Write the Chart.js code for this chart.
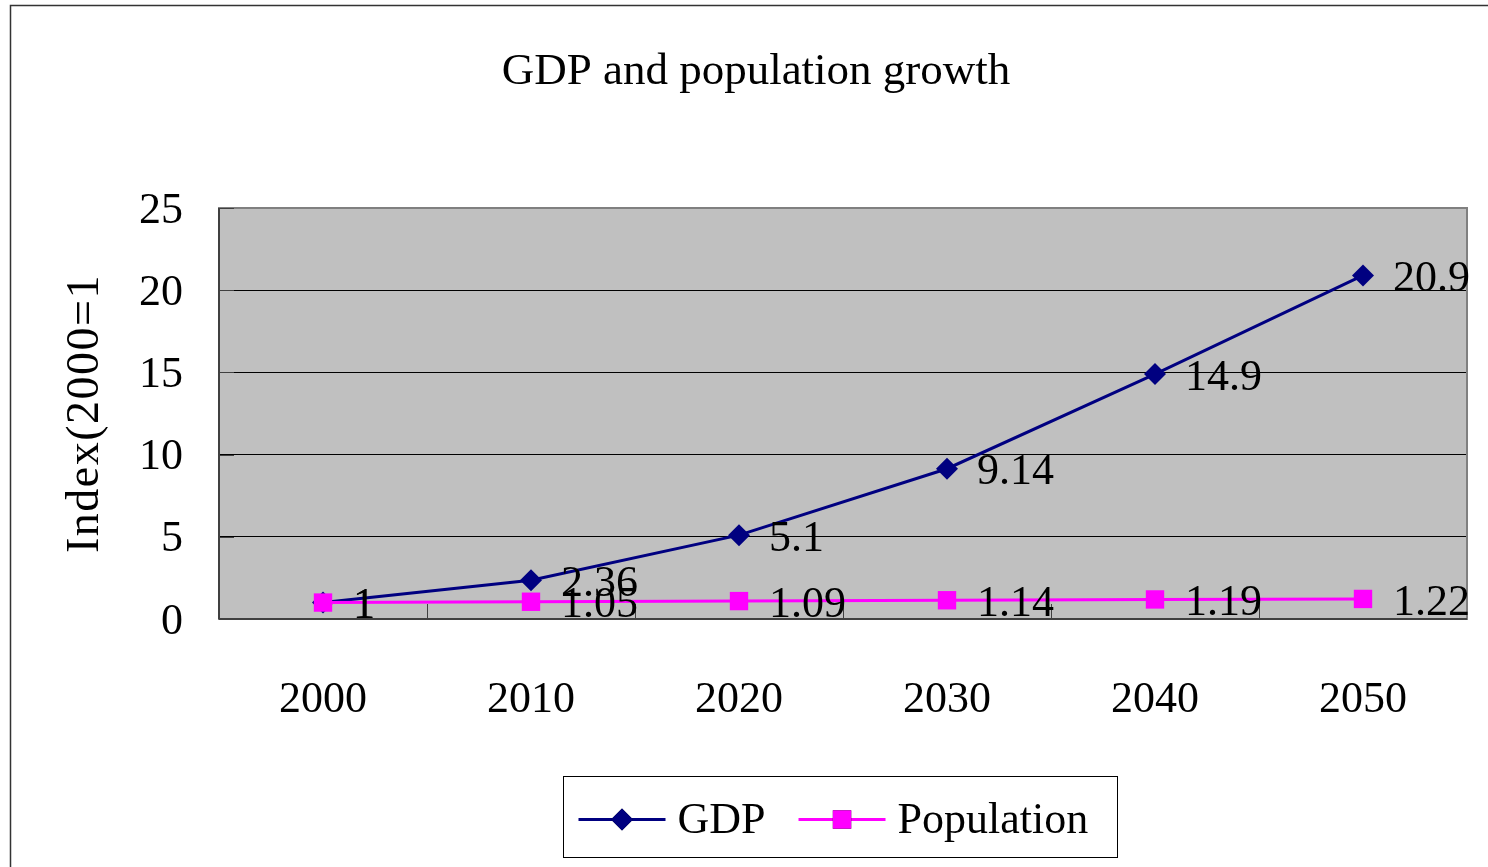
<!DOCTYPE html>
<html>
<head>
<meta charset="utf-8">
<script src="https://cdn.jsdelivr.net/npm/chart.js@4.4.1/dist/chart.umd.min.js"></script>
<style>
  html, body { margin: 0; padding: 0; background: #fff; overflow: hidden; }
  #wrap { position: relative; width: 1488px; height: 867px; }
</style>
</head>
<body>
<div id="wrap"><canvas id="chart" width="1488" height="867"></canvas></div>
<script>
const years = ['2000', '2010', '2020', '2030', '2040', '2050'];
const gdp = [1, 2.36, 5.1, 9.14, 14.9, 20.9];
const population = [1, 1.05, 1.09, 1.14, 1.19, 1.22];
const yTicks = [0, 5, 10, 15, 20, 25];
const chartTitle = 'GDP and population growth';
const yTitle = 'Index(2000=1';

const SERIF = '"Times New Roman", "Liberation Serif", serif';
const FONT_SIZE = 44;

// grey plot area, outer frame, titles, axis lines and inward tick marks
const frame = {
    id: 'frame',
    beforeDraw(chart) {
        const { ctx, chartArea: a } = chart;
        ctx.save();
        ctx.fillStyle = '#fff';
        ctx.fillRect(0, 0, chart.width, chart.height);
        ctx.strokeStyle = '#333';
        ctx.lineWidth = 1.5;
        ctx.strokeRect(10.5, 5.5, chart.width + 20, chart.height + 20);
        ctx.fillStyle = '#c0c0c0';
        ctx.fillRect(a.left, a.top, a.right - a.left, a.bottom - a.top);

        ctx.fillStyle = '#000';
        ctx.textAlign = 'center';
        ctx.textBaseline = 'middle';
        ctx.font = `45px ${SERIF}`;
        ctx.fillText(chartTitle, 756, 72);

        ctx.save();
        ctx.translate(86, (a.top + a.bottom) / 2);
        ctx.rotate(-Math.PI / 2);
        ctx.font = `46px ${SERIF}`;
        ctx.letterSpacing = '1.5px';
        ctx.fillText(yTitle, 0, 0);
        ctx.restore();
        ctx.restore();
    },
    beforeDatasetsDraw(chart) {
        const { ctx, chartArea: a, scales: { x, y } } = chart;
        ctx.save();
        ctx.strokeStyle = '#808080';
        ctx.lineWidth = 2;
        ctx.strokeRect(a.left, a.top, a.right - a.left, a.bottom - a.top);

        ctx.strokeStyle = '#404040';
        ctx.lineWidth = 2;
        ctx.beginPath();
        ctx.moveTo(a.left, a.bottom);
        ctx.lineTo(a.right, a.bottom);
        ctx.moveTo(a.left, a.top);
        ctx.lineTo(a.left, a.bottom);
        ctx.stroke();

        // tick marks pointing into the plot
        ctx.lineWidth = 1;
        ctx.beginPath();
        for (let i = 0; i < years.length - 1; i++) {
            const px = Math.round((x.getPixelForValue(i) + x.getPixelForValue(i + 1)) / 2) + 0.5;
            ctx.moveTo(px, a.bottom);
            ctx.lineTo(px, a.bottom - 15);
        }
        yTicks.forEach(v => {
            const py = Math.round(y.getPixelForValue(v)) + 0.5;
            ctx.moveTo(a.left, py);
            ctx.lineTo(a.left + 15, py);
        });
        ctx.stroke();

        // value axis labels
        ctx.fillStyle = '#000';
        ctx.font = `${FONT_SIZE}px ${SERIF}`;
        ctx.textAlign = 'right';
        ctx.textBaseline = 'middle';
        yTicks.forEach(v => {
            ctx.fillText(String(v), a.left - 36, y.getPixelForValue(v) + 3);
        });
        ctx.restore();
    }
};

// value labels to the right of each point
const valueLabels = {
    id: 'valueLabels',
    afterDatasetsDraw(chart) {
        const { ctx } = chart;
        ctx.save();
        ctx.font = `${FONT_SIZE}px ${SERIF}`;
        ctx.fillStyle = '#000';
        ctx.textAlign = 'left';
        ctx.textBaseline = 'middle';
        chart.data.datasets.forEach((ds, i) => {
            chart.getDatasetMeta(i).data.forEach((pt, j) => {
                ctx.fillText(String(ds.data[j]), pt.x + 30, pt.y + 4);
            });
        });
        ctx.restore();
    }
};

// boxed legend below the axis, line sample with marker
const lineLegend = {
    id: 'lineLegend',
    afterDraw(chart) {
        const { ctx, chartArea: a } = chart;
        const sampleW = 87, gap = 12, itemGap = 33, padL = 15, padR = 29;
        ctx.save();
        ctx.font = `${FONT_SIZE}px ${SERIF}`;
        const items = chart.data.datasets.map(ds => ({ ds, w: ctx.measureText(ds.label).width }));
        let total = padL + padR + itemGap * (items.length - 1);
        items.forEach(it => { total += sampleW + gap + it.w; });
        const boxTop = 776, boxH = 81;
        const left = Math.round((a.left + a.right) / 2 - total / 2) - 2.5;
        ctx.strokeStyle = '#000';
        ctx.lineWidth = 1;
        ctx.strokeRect(left, boxTop + 0.5, Math.round(total), boxH);
        const cy = boxTop + boxH / 2 + 3;
        let cx = left + padL;
        items.forEach(it => {
            const ds = it.ds;
            ctx.strokeStyle = ds.borderColor;
            ctx.lineWidth = ds.borderWidth;
            ctx.beginPath();
            ctx.moveTo(cx, cy);
            ctx.lineTo(cx + sampleW, cy);
            ctx.stroke();
            Chart.helpers.drawPoint(ctx, {
                pointStyle: ds.pointStyle,
                radius: ds.pointRadius,
                borderWidth: 0,
                rotation: 0
            }, cx + sampleW / 2, cy);
            ctx.fillStyle = ds.pointBackgroundColor;
            ctx.fill();
            ctx.fillStyle = '#000';
            ctx.textAlign = 'left';
            ctx.textBaseline = 'middle';
            ctx.fillText(ds.label, cx + sampleW + gap, cy + 2);
            cx += sampleW + gap + it.w + itemGap;
        });
        ctx.restore();
    }
};

new Chart(document.getElementById('chart'), {
    type: 'line',
    data: {
        labels: years,
        datasets: [
            {
                label: 'GDP',
                data: gdp,
                borderColor: '#000080',
                backgroundColor: '#000080',
                pointBackgroundColor: '#000080',
                pointBorderColor: '#000080',
                pointStyle: 'rectRot',
                pointRadius: 11,
                pointBorderWidth: 0,
                borderWidth: 3,
                tension: 0,
                order: 1
            },
            {
                label: 'Population',
                data: population,
                borderColor: '#ff00ff',
                backgroundColor: '#ff00ff',
                pointBackgroundColor: '#ff00ff',
                pointBorderColor: '#ff00ff',
                pointStyle: 'rect',
                pointRadius: 13,
                pointBorderWidth: 0,
                borderWidth: 3,
                tension: 0,
                order: 0
            }
        ]
    },
    options: {
        responsive: false,
        animation: false,
        devicePixelRatio: 1,
        layout: { padding: { left: 0, right: 21, top: 208, bottom: 138 } },
        plugins: {
            legend: { display: false },
            tooltip: { enabled: false },
            title: { display: false }
        },
        scales: {
            x: {
                type: 'category',
                offset: true,
                grid: { display: false, drawTicks: false },
                border: { display: false },
                ticks: {
                    color: '#000',
                    font: { family: SERIF, size: FONT_SIZE },
                    padding: 55,
                    maxRotation: 0
                },
                afterFit(scale) { scale.height = 110; }
            },
            y: {
                min: 0,
                max: 25,
                afterBuildTicks(scale) { scale.ticks = yTicks.map(v => ({ value: v })); },
                grid: {
                    drawTicks: false,
                    color: ctx => (ctx.tick && ctx.tick.value > 0 && ctx.tick.value < 25) ? '#000' : 'rgba(0,0,0,0)',
                    lineWidth: 1
                },
                border: { display: false },
                ticks: { display: false },
                afterFit(scale) { scale.width = 219; }
            }
        }
    },
    plugins: [frame, valueLabels, lineLegend]
});
</script>
</body>
</html>
